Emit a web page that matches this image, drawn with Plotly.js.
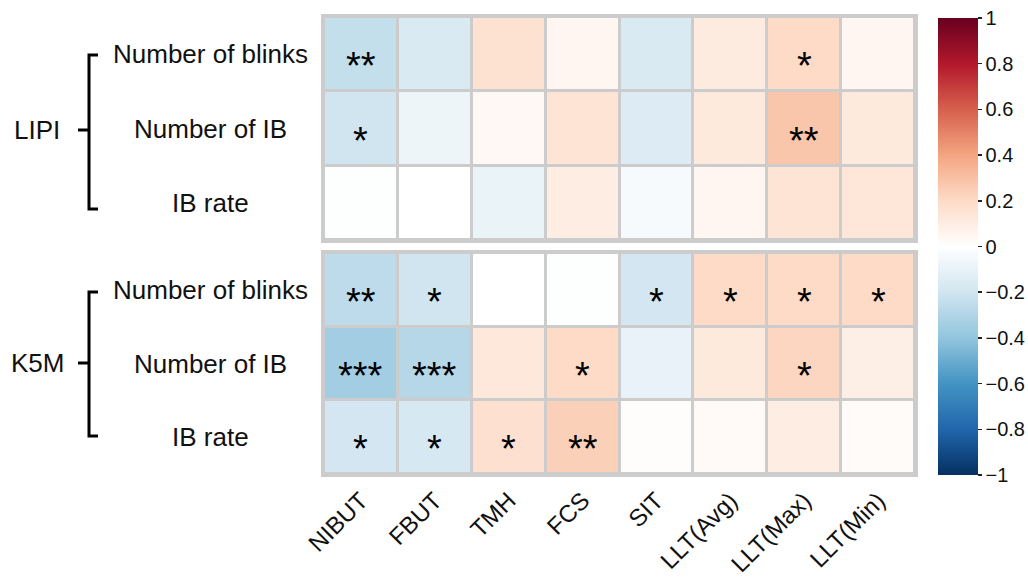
<!DOCTYPE html>
<html>
<head>
<meta charset="utf-8">
<script src="https://cdn.plot.ly/plotly-3.0.1.min.js"></script>
<style>html,body{margin:0;padding:0;background:#fff;}#chart{width:1028px;height:580px;}</style>
</head>
<body>
<div id="chart"></div>
<script>
const columns = ['NIBUT', 'FBUT', 'TMH', 'FCS', 'SIT', 'LLT(Avg)', 'LLT(Max)', 'LLT(Min)'];
const rows = ['Number of blinks', 'Number of IB', 'IB rate'];
const groups = ['LIPI', 'K5M'];

const lipiValues = [
  [-0.24, -0.16, 0.16, 0.05, -0.16, 0.11, 0.20, 0.05],
  [-0.20, -0.08, 0.04, 0.15, -0.15, 0.12, 0.28, 0.12],
  [-0.01, 0.00, -0.09, 0.10, -0.04, 0.05, 0.15, 0.14]
];
const k5mValues = [
  [-0.26, -0.20, 0.00, -0.01, -0.19, 0.20, 0.20, 0.20],
  [-0.35, -0.29, 0.13, 0.20, -0.10, 0.12, 0.22, 0.09],
  [-0.19, -0.18, 0.17, 0.24, 0.01, 0.03, 0.10, 0.02]
];
const lipiStars = [
  ['**', '', '', '', '', '', '*', ''],
  ['*', '', '', '', '', '', '**', ''],
  ['', '', '', '', '', '', '', '']
];
const k5mStars = [
  ['**', '*', '', '', '*', '*', '*', '*'],
  ['***', '***', '', '*', '', '', '*', ''],
  ['*', '*', '*', '**', '', '', '', '']
];
const colorTicks = [-1, -0.8, -0.6, -0.4, -0.2, 0, 0.2, 0.4, 0.6, 0.8, 1];

const W = 1028, H = 580;
const px = v => v / W;
const py = v => 1 - v / H;

const rdbu = [
  [0.0, '#053061'], [0.1, '#2166AC'], [0.2, '#4393C3'], [0.3, '#92C5DE'],
  [0.4, '#D1E5F0'], [0.5, '#FFFFFF'], [0.6, '#FDDBC7'], [0.7, '#F4A582'],
  [0.8, '#D6604D'], [0.9, '#B2182B'], [1.0, '#67001F']
];
const FONT = 'Liberation Sans, Arial, Helvetica, sans-serif';

const common = {
  type: 'heatmap', x: columns, y: rows, zmin: -1, zmax: 1,
  colorscale: rdbu, xgap: 3, ygap: 3, hoverinfo: 'skip'
};
const traces = [
  Object.assign({}, common, {
    z: lipiValues, xaxis: 'x', yaxis: 'y', showscale: true,
    colorbar: {
      thickness: 40, thicknessmode: 'pixels', len: 457, lenmode: 'pixels',
      x: px(938), xanchor: 'left', y: py(246.5), yanchor: 'middle',
      xpad: 0, ypad: 0, outlinewidth: 0,
      tickvals: colorTicks, ticktext: colorTicks.map(v => v === 0 ? '0' : (v < 0 ? '\u2212' + Math.abs(v) : String(v))),
      ticks: 'outside', ticklen: 4, tickwidth: 1.5, tickcolor: '#222',
      tickfont: {family: FONT, size: 20, color: '#111'}
    }
  }),
  Object.assign({}, common, {z: k5mValues, xaxis: 'x2', yaxis: 'y2', showscale: false})
];

const annotations = [];
function addStars(stars, xr, yr) {
  stars.forEach((row, i) => row.forEach((s, j) => {
    if (s) annotations.push({x: columns[j], y: rows[i], xref: xr, yref: yr, text: s,
      showarrow: false, yshift: -12, font: {family: FONT, size: 38, color: '#000'}});
  }));
}
addStars(lipiStars, 'x', 'y');
addStars(k5mStars, 'x2', 'y2');

['y', 'y2'].forEach(yr => rows.forEach(r => annotations.push({
  x: px(210), xref: 'paper', y: r, yref: yr, text: r, showarrow: false,
  xanchor: 'center', font: {family: FONT, size: 26, color: '#111'}
})));

const groupY = [130, 363];
groups.forEach((g, k) => annotations.push({
  x: px(37), xref: 'paper', y: py(groupY[k]), yref: 'paper', text: g, showarrow: false,
  xanchor: 'center', yanchor: 'middle', font: {family: FONT, size: 26, color: '#111'}
}));

const brackets = [[55, 209, 130], [292, 436, 363]];
const shapes = [];
const ln = {color: '#000', width: 3};
brackets.forEach(([t, b, m]) => {
  shapes.push({type: 'path', xref: 'paper', yref: 'paper',
    path: `M ${px(98)} ${py(t)} L ${px(89)} ${py(t)} L ${px(89)} ${py(b)} L ${px(98)} ${py(b)}`,
    line: ln});
  shapes.push({type: 'line', xref: 'paper', yref: 'paper', x0: px(78), x1: px(89), y0: py(m), y1: py(m), line: ln});
});

const axisBase = {showline: true, mirror: true, linecolor: '#CCCCCC', linewidth: 3,
  showgrid: false, zeroline: false, ticks: '', fixedrange: true};
const layout = {
  width: W, height: H, margin: {l: 0, r: 0, t: 0, b: 0},
  paper_bgcolor: '#fff', plot_bgcolor: '#CCCCCC', showlegend: false,
  font: {family: FONT, color: '#111'},
  xaxis: Object.assign({}, axisBase, {domain: [px(324), px(915)], anchor: 'y', showticklabels: false}),
  yaxis: Object.assign({}, axisBase, {domain: [py(240), py(17)], anchor: 'x', autorange: 'reversed', showticklabels: false}),
  xaxis2: Object.assign({}, axisBase, {domain: [px(324), px(915)], anchor: 'y2', tickangle: -45,
    tickfont: {family: FONT, size: 24, color: '#111'}, automargin: false}),
  yaxis2: Object.assign({}, axisBase, {domain: [py(474), py(253)], anchor: 'x2', autorange: 'reversed', showticklabels: false}),
  annotations: annotations, shapes: shapes
};
Plotly.newPlot('chart', traces, layout, {staticPlot: true, displayModeBar: false});
</script>
</body>
</html>
